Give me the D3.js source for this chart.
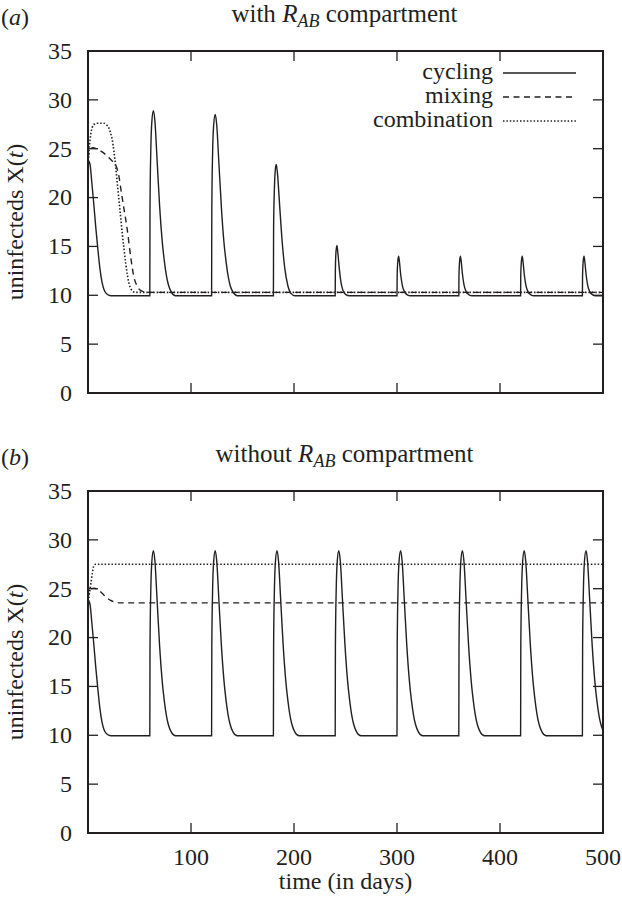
<!DOCTYPE html>
<html><head><meta charset="utf-8">
<script src="https://cdn.jsdelivr.net/npm/d3@7"></script>
<style>
body{margin:0;background:#fff}
svg{display:block}
text{font-family:"Liberation Serif","Times New Roman",serif;fill:#231f20}
</style>
</head><body>
<svg id="chart" width="622" height="899"></svg>
<script>
// ---------- data ----------
const xTickValues = [0, 100, 200, 300, 400, 500];
const xTickLabels = ["", "100", "200", "300", "400", "500"];
const yTickValues = [0, 5, 10, 15, 20, 25, 30, 35];
const seriesNames = ["cycling", "mixing", "combination"];
const panelLetters = ["a", "b"];
const panelTitlePre = ["with ", "without "];

// panel (a): with R_AB compartment
const cyclingA = [
  [0,22.8],[0.5,23.5],[1.2,23.7],[2,23.4],[3.5,21.8],[5.5,19.5],[7.5,17],[9.5,14.8],[11.5,12.8],[13.5,11.4],[15.5,10.6],[18,10.15],[22,9.95],
  [60,9.95],[60.2,19],[61,25],[62,27.8],[63.5,28.9],[65,27.8],[67,24],[69.5,19.2],[72,15.6],[74,13.6],[76,12.1],[78,11.1],[81,10.3],[85,9.95],
  [120,9.95],[120.2,18.8],[121,24.7],[122,27.4],[123.5,28.5],[125,27.4],[127,23.7],[129.5,19],[132,15.4],[134,13.5],[136,12],[138,11],[141,10.3],[145,9.95],
  [180,9.95],[180.2,17],[181,21],[182,23],[182.8,23.4],[184,22.4],[186,19.3],[188.5,15.5],[191,12.8],[194,11],[197,10.2],[201,9.95],
  [240,9.95],[240.15,12.5],[240.8,14.5],[241.7,15.1],[242.7,14.2],[244,12.7],[245.5,11.4],[247.5,10.5],[250,10.1],[254,9.95],
  [300,9.95],[300.15,12.0],[300.8,13.5],[301.6,14.0],[302.5,13.3],[303.5,12.2],[305,11.1],[307,10.4],[310,10.05],[313,9.95],
  [360,9.95],[360.15,12.0],[360.8,13.5],[361.6,14.0],[362.5,13.3],[363.5,12.2],[365,11.1],[367,10.4],[370,10.05],[373,9.95],
  [420,9.95],[420.15,12.0],[420.8,13.5],[421.6,14.0],[422.5,13.3],[423.5,12.2],[425,11.1],[427,10.4],[430,10.05],[433,9.95],
  [480,9.95],[480.15,12.0],[480.8,13.5],[481.6,14.0],[482.5,13.3],[483.5,12.2],[485,11.1],[487,10.4],[490,10.05],[493,9.95],[500,9.95]
];
const mixingA = [
  [0,24.0],[1,24.6],[2.5,25.0],[5,25.1],[8,25.0],[12,24.8],[16,24.5],[19,24.2],[23,23.8],[27,23.3],[30,22.2],[32,20.8],
  [35,18.8],[38,16.8],[41.5,13.9],[44.5,11.9],[48,10.9],[51,10.5],[55,10.35],[60,10.3],[500,10.3]
];
const combinationA = [
  [0,23.0],[1,24.8],[2,25.9],[3,26.7],[4.2,27.2],[6,27.5],[9,27.6],[15.5,27.6],[18,27.45],[20.4,27.1],[22,26.6],[23.6,25.9],
  [25.2,24.7],[26.9,23.1],[28.5,21.4],[30.1,19.7],[31.7,18],[33.3,16.3],[35,14.7],[36.6,13.3],[38.2,12.1],[39.8,11.2],
  [41.5,10.7],[43,10.45],[46,10.3],[500,10.3]
];

// panel (b): without R_AB compartment
const cyclingB = [
  [0,22.8],[0.5,23.5],[1.2,23.7],[2,23.4],[3.5,21.8],[5.5,19.5],[7.5,17],[9.5,14.8],[11.5,12.8],[13.5,11.4],[15.5,10.6],[18,10.15],[22,9.95],
  [60,9.95],[60.2,19],[61,25],[62,27.8],[63.5,28.9],[65,27.8],[67,24],[69.5,19.2],[72,15.6],[74,13.6],[76,12.1],[78,11.1],[81,10.3],[85,9.95],
  [120,9.95],[120.2,19],[121,25],[122,27.8],[123.5,28.9],[125,27.8],[127,24],[129.5,19.2],[132,15.6],[134,13.6],[136,12.1],[138,11.1],[141,10.3],[145,9.95],
  [180,9.95],[180.2,19],[181,25],[182,27.8],[183.5,28.9],[185,27.8],[187,24],[189.5,19.2],[192,15.6],[194,13.6],[196,12.1],[198,11.1],[201,10.3],[205,9.95],
  [240,9.95],[240.2,19],[241,25],[242,27.8],[243.5,28.9],[245,27.8],[247,24],[249.5,19.2],[252,15.6],[254,13.6],[256,12.1],[258,11.1],[261,10.3],[265,9.95],
  [300,9.95],[300.2,19],[301,25],[302,27.8],[303.5,28.9],[305,27.8],[307,24],[309.5,19.2],[312,15.6],[314,13.6],[316,12.1],[318,11.1],[321,10.3],[325,9.95],
  [360,9.95],[360.2,19],[361,25],[362,27.8],[363.5,28.9],[365,27.8],[367,24],[369.5,19.2],[372,15.6],[374,13.6],[376,12.1],[378,11.1],[381,10.3],[385,9.95],
  [420,9.95],[420.2,19],[421,25],[422,27.8],[423.5,28.9],[425,27.8],[427,24],[429.5,19.2],[432,15.6],[434,13.6],[436,12.1],[438,11.1],[441,10.3],[445,9.95],
  [480,9.95],[480.2,19],[481,25],[482,27.8],[483.5,28.9],[485,27.8],[487,24],[489.5,19.2],[492,15.6],[494,13.6],[496,12.1],[498,11.1],[500,10.5]
];
const mixingB = [
  [0,24.0],[1,24.6],[2.5,25.0],[6,25.05],[10,24.9],[14,24.5],[18,24.1],[22,23.8],[27,23.62],[32,23.55],[500,23.55]
];
const combinationB = [
  [0,23.0],[1,24.2],[2.6,25.4],[4.2,26.6],[5.8,27.4],[7.5,27.5],[500,27.5]
];

// ---------- drawing ----------
const svg = d3.select("#chart");
const L = 88, R = 603, PH = 342;
const panelTops = [51, 491];
const FS = 24;
const TFS = 25;
const dashStyles = [null, "6,4.5", "1.5,1.9"];
const dashWidths = [1.4, 1.4, 1.6];

const x = d3.scaleLinear().domain([0, 500]).range([L, R]);

function drawPanel(idx, series, showXLabels) {
  const top = panelTops[idx], bottom = top + PH;
  const y = d3.scaleLinear().domain([0, 35]).range([bottom, top]);
  const g = svg.append("g");

  const cid = "clip" + idx;
  svg.append("defs").append("clipPath").attr("id", cid)
    .append("rect").attr("x", L).attr("y", top).attr("width", R - L).attr("height", PH);

  // ticks (mirrored, inward)
  const tk = g.append("g").attr("stroke", "#231f20").attr("stroke-width", 1.3);
  yTickValues.forEach(v => {
    tk.append("line").attr("x1", L).attr("x2", L + 10).attr("y1", y(v)).attr("y2", y(v));
    tk.append("line").attr("x1", R).attr("x2", R - 10).attr("y1", y(v)).attr("y2", y(v));
  });
  xTickValues.forEach(v => {
    tk.append("line").attr("x1", x(v)).attr("x2", x(v)).attr("y1", bottom).attr("y2", bottom - 10);
    tk.append("line").attr("x1", x(v)).attr("x2", x(v)).attr("y1", top).attr("y2", top + 10);
  });

  yTickValues.forEach(v => {
    g.append("text").attr("x", L - 16).attr("y", y(v)).attr("dy", "0.33em")
      .attr("text-anchor", "end").attr("font-size", FS).text(v);
  });
  if (showXLabels) {
    xTickValues.forEach((v, i) => {
      g.append("text").attr("x", x(v)).attr("y", bottom + 32)
        .attr("text-anchor", "middle").attr("font-size", FS).text(xTickLabels[i]);
    });
  }

  const line = d3.line().x(d => x(d[0])).y(d => y(d[1])).curve(d3.curveMonotoneX);
  const lg = g.append("g").attr("clip-path", `url(#${cid})`);
  series.forEach((s, i) => {
    const p = lg.append("path").datum(s).attr("d", line)
      .attr("fill", "none").attr("stroke", "#231f20").attr("stroke-width", dashWidths[i]);
    if (dashStyles[i]) p.attr("stroke-dasharray", dashStyles[i]);
  });

  g.append("rect").attr("x", L).attr("y", top).attr("width", R - L).attr("height", PH)
    .attr("fill", "none").attr("stroke", "#231f20").attr("stroke-width", 2);

  const yl = g.append("text").attr("transform", `translate(23,${(top + bottom) / 2}) rotate(-90)`)
    .attr("text-anchor", "middle").attr("font-size", FS);
  yl.append("tspan").text("uninfecteds X(");
  yl.append("tspan").attr("font-style", "italic").text("t");
  yl.append("tspan").text(")");

  const pl = g.append("text").attr("x", 1).attr("y", top - 26).attr("font-size", FS);
  pl.append("tspan").text("(");
  pl.append("tspan").attr("font-style", "italic").text(panelLetters[idx]);
  pl.append("tspan").text(")");

  const tt = g.append("text").attr("x", (L + R) / 2 - 1).attr("y", top - 29)
    .attr("text-anchor", "middle").attr("font-size", TFS);
  tt.append("tspan").text(panelTitlePre[idx]);
  tt.append("tspan").attr("font-style", "italic").text("R");
  tt.append("tspan").attr("font-style", "italic").attr("font-size", 18).attr("dy", 5).text("AB");
  tt.append("tspan").attr("dy", -5).text(" compartment");

  return { g, y };
}

const pa = drawPanel(0, [cyclingA, mixingA, combinationA], false);
drawPanel(1, [cyclingB, mixingB, combinationB], true);

// legend in panel (a)
const leg = pa.g.append("g");
const legBase = [79, 103, 127];
seriesNames.forEach((n, i) => {
  leg.append("text").attr("x", 493).attr("y", legBase[i]).attr("text-anchor", "end")
    .attr("font-size", FS).text(n);
  const ln = leg.append("line").attr("x1", 503).attr("x2", 576)
    .attr("y1", legBase[i] - 6).attr("y2", legBase[i] - 6)
    .attr("stroke", "#231f20").attr("stroke-width", dashWidths[i]);
  if (dashStyles[i]) ln.attr("stroke-dasharray", dashStyles[i]);
});

svg.append("text").attr("x", (L + R) / 2).attr("y", 889).attr("text-anchor", "middle")
  .attr("font-size", FS).text("time (in days)");
</script>
</body></html>
